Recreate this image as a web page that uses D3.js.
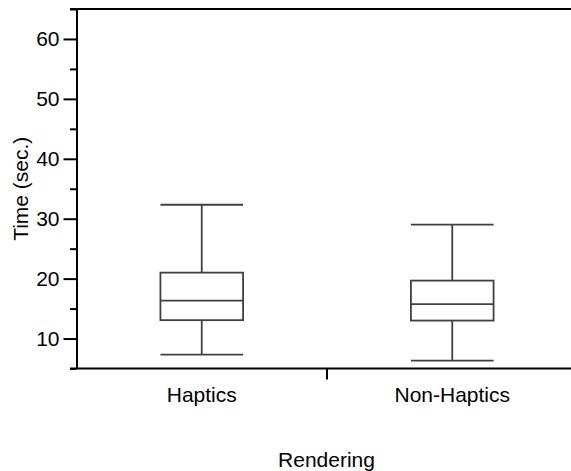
<!DOCTYPE html>
<html>
<head>
<meta charset="utf-8">
<script src="https://cdn.jsdelivr.net/npm/d3@7"></script>
<style>
  html, body { margin: 0; padding: 0; background: #fff; }
  svg { display: block; }
  text { font-family: "Liberation Sans", Arial, Helvetica, sans-serif; fill: #000; }
</style>
</head>
<body>
<svg id="chart" width="571" height="471"></svg>
<script>
// Data
const categories = ["Haptics", "Non-Haptics"];
const whiskerLow  = [7.33, 6.33];
const q1          = [13.07, 13.0];
const median      = [16.33, 15.73];
const q3          = [21.0, 19.67];
const whiskerHigh = [32.33, 29.0];
const majorTicks  = [10, 20, 30, 40, 50, 60];
const minorTicks  = [5, 15, 25, 35, 45, 55, 65];
const yDomain     = [5, 65];
const xTitle = "Rendering";
const yTitle = "Time (sec.)";

const data = categories.map((c, i) => ({
  cat: c, lo: whiskerLow[i], q1: q1[i], med: median[i], q3: q3[i], hi: whiskerHigh[i]
}));

const svg = d3.select("#chart");
const mLeft = 76.5, mRight = 577.5, mTop = 9, mBottom = 368.5;

const x = d3.scaleBand().domain(categories).range([mLeft, mRight]).paddingInner(0).paddingOuter(0);
const y = d3.scaleLinear().domain(yDomain).range([mBottom, mTop]);

const fontSize = 21;
const boxColor = "#404040";
const boxW = x.bandwidth() * 0.33;

// Boxes
const g = svg.append("g");
data.forEach(d => {
  const cx = x(d.cat) + x.bandwidth() / 2;
  const bg = g.append("g").attr("stroke", boxColor).attr("stroke-width", 1.8).attr("fill", "none");
  bg.append("line").attr("x1", cx).attr("x2", cx).attr("y1", y(d.hi)).attr("y2", y(d.q3));
  bg.append("line").attr("x1", cx).attr("x2", cx).attr("y1", y(d.q1)).attr("y2", y(d.lo));
  bg.append("line").attr("x1", cx - boxW / 2).attr("x2", cx + boxW / 2).attr("y1", y(d.hi)).attr("y2", y(d.hi));
  bg.append("line").attr("x1", cx - boxW / 2).attr("x2", cx + boxW / 2).attr("y1", y(d.lo)).attr("y2", y(d.lo));
  bg.append("rect").attr("x", cx - boxW / 2).attr("width", boxW)
    .attr("y", y(d.q3)).attr("height", y(d.q1) - y(d.q3));
  bg.append("line").attr("x1", cx - boxW / 2).attr("x2", cx + boxW / 2).attr("y1", y(d.med)).attr("y2", y(d.med));
});

// Y axis: major ticks
const yAxis = d3.axisLeft(y).tickValues(majorTicks).tickSize(13).tickPadding(4).tickSizeOuter(0);
const ya = svg.append("g").attr("transform", `translate(${mLeft},0)`).call(yAxis);
ya.select(".domain").attr("stroke", "#000").attr("stroke-width", 2);
ya.selectAll(".tick line").attr("stroke", "#000").attr("stroke-width", 2);
ya.selectAll(".tick text").style("font-size", fontSize + "px").attr("fill", "#000")
  .style("font-family", '"Liberation Sans", Arial, sans-serif');
// minor ticks
const yMinor = d3.axisLeft(y).tickValues(minorTicks).tickSize(6.5).tickFormat("").tickSizeOuter(0);
const ym = svg.append("g").attr("transform", `translate(${mLeft},0)`).call(yMinor);
ym.select(".domain").remove();
ym.selectAll(".tick line").attr("stroke", "#000").attr("stroke-width", 2);

// top line
svg.append("line").attr("x1", mLeft - 6.5).attr("x2", 571).attr("y1", y(yDomain[1])).attr("y2", y(yDomain[1]))
  .attr("stroke", "#000").attr("stroke-width", 2);

// X axis
const xa = svg.append("g").attr("transform", `translate(0,${mBottom})`)
  .call(d3.axisBottom(x).tickSize(0).tickPadding(19).tickSizeOuter(0));
xa.select(".domain").remove();
xa.selectAll(".tick text").style("font-size", fontSize + "px").attr("fill", "#000")
  .style("font-family", '"Liberation Sans", Arial, sans-serif');
svg.append("line").attr("x1", mLeft - 6.5).attr("x2", 571).attr("y1", mBottom).attr("y2", mBottom)
  .attr("stroke", "#000").attr("stroke-width", 2);
const boundaries = categories.slice(1).map(c => x(c));
svg.append("g").selectAll("line").data(boundaries).join("line")
  .attr("x1", d => d).attr("x2", d => d).attr("y1", mBottom).attr("y2", mBottom + 11)
  .attr("stroke", "#000").attr("stroke-width", 2);

// Titles
svg.append("text").attr("x", (mLeft + mRight) / 2 - 0.5).attr("y", 467)
  .attr("text-anchor", "middle").style("font-size", fontSize + "px").text(xTitle);
svg.append("text").attr("transform", `translate(28,${(mTop + mBottom) / 2}) rotate(-90)`)
  .attr("text-anchor", "middle").style("font-size", fontSize + "px").text(yTitle);
</script>
</body>
</html>
